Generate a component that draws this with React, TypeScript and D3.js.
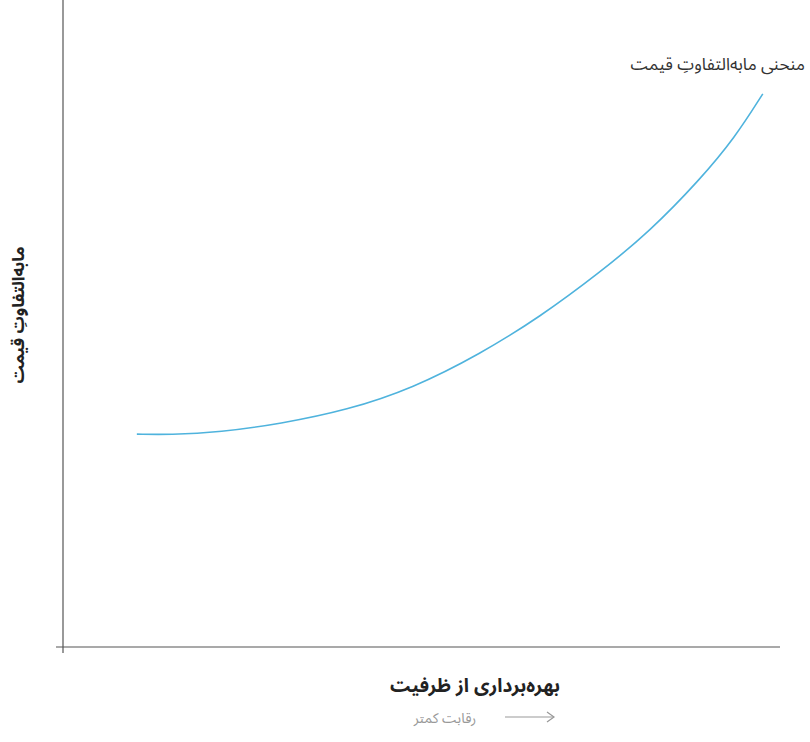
import React from 'react';
import * as d3 from 'd3';

// curve points (x: capacity use, y: price spread)
const curveX = [10.3, 14.9, 21.9, 30.3, 39.6, 48.8, 58.2, 66.5, 74.9, 81.9, 88.8, 93.7, 97.6];
const curveY = [32.9, 32.8, 33.2, 34.5, 36.6, 40.0, 45.3, 51.0, 57.9, 64.3, 72.2, 78.7, 85.5];

const curveLabel = 'منحنی مابه‌التفاوتِ قیمت';
const yTitle = 'مابه‌التفاوتِ قیمت';
const xTitle = 'بهره‌برداری از ظرفیت';
const xSubtitle = 'رقابت کمتر';

const W = 810;
const H = 742;
const font = '"Noto Sans Arabic", "DejaVu Sans", sans-serif';

export default function App() {
  const x = d3.scaleLinear().domain([0, 100]).range([63, 780]);
  const y = d3.scaleLinear().domain([0, 100]).range([647, 0]);

  const pts = curveX.map((v, i) => [v, curveY[i]] as [number, number]);
  const line = d3.line<[number, number]>()
    .x(d => x(d[0]))
    .y(d => y(d[1]))
    .curve(d3.curveBasis);

  return (
    <svg width={W} height={H} style={{ position: 'absolute', left: 0, top: 0 }} fontFamily={font}>
      {/* axes */}
      <line x1={x(0)} x2={x(0)} y1={0} y2={653} stroke="#555" strokeWidth={1.2} />
      <line x1={56} x2={780} y1={y(0)} y2={y(0)} stroke="#555" strokeWidth={1.2} />

      <path d={line(pts) || ''} fill="none" stroke="#4fb3dd" strokeWidth={1.6} />

      <text x={805} y={70} textAnchor="end" fontSize={17} fill="#333">{curveLabel}</text>

      <text transform="translate(24,315) rotate(-90)" textAnchor="middle" fontSize={17} fontWeight="bold" fill="#222">{yTitle}</text>

      <text x={475} y={692} textAnchor="middle" fontSize={19} fontWeight="bold" fill="#222">{xTitle}</text>

      <text x={445} y={723} textAnchor="middle" fontSize={14} fill="#999">{xSubtitle}</text>
      <line x1={505} x2={554} y1={717} y2={717} stroke="#999" strokeWidth={1.2} />
      <path d="M547,712 L554,717 L547,722" fill="none" stroke="#999" strokeWidth={1.2} />
    </svg>
  );
}
